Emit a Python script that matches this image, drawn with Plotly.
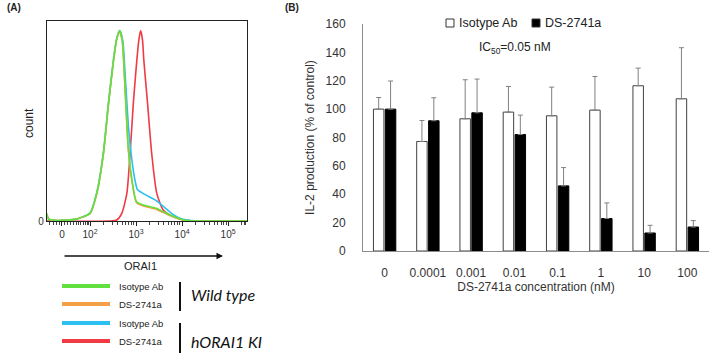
import plotly.graph_objects as go
import numpy as np

W, H = 709, 353

# ---------------- Panel A data (flow histogram, display units: decades) ----------------
wt_iso_x = [1.065, 1.1, 1.3, 1.49, 1.7, 1.855, 2.0, 2.145, 2.29, 2.40, 2.51, 2.58, 2.64, 2.70, 2.76, 2.83, 2.91, 3.01, 3.16, 3.45, 3.74, 4.03, 4.3, 5.41]
wt_iso_y = [4.0, 1.0, 0.3, 0.5, 1.0, 2.3, 4.0, 14.5, 35.4, 61.6, 84.3, 95.7, 100, 94.8, 70.3, 38.9, 21.5, 10.1, 8.4, 6.6, 3.1, 0.5, 0, 0]

wt_ds_x = [1.065, 1.1, 1.3, 1.49, 1.7, 1.855, 2.0, 2.145, 2.29, 2.40, 2.51, 2.58, 2.645, 2.70, 2.76, 2.83, 2.91, 3.01, 3.16, 3.45, 3.74, 4.03, 4.3, 5.41]
wt_ds_y = [3.5, 1.0, 0.3, 0.5, 1.0, 2.2, 3.8, 14.0, 35.0, 61.0, 84.0, 95.5, 99.5, 94.5, 69.5, 38.0, 21.0, 9.6, 7.9, 6.1, 2.7, 0.4, 0, 0]

ki_iso_x = [1.065, 1.1, 1.3, 1.49, 1.7, 1.855, 2.0, 2.145, 2.29, 2.40, 2.51, 2.58, 2.645, 2.71, 2.77, 2.84, 2.92, 2.98, 3.03, 3.15, 3.3, 3.45, 3.6, 3.8, 4.0, 4.2, 5.41]
ki_iso_y = [3.0, 1.0, 0.3, 0.5, 1.0, 2.3, 4.2, 14.8, 36.0, 62.0, 85.0, 96.0, 100, 95.0, 74.0, 48.0, 30.0, 21.0, 16.5, 14.5, 12.5, 10.5, 7.5, 3.5, 1.0, 0.2, 0]

ki_ds_x = [1.065, 2.4, 2.58, 2.69, 2.80, 2.87, 2.94, 3.01, 3.06, 3.10, 3.14, 3.17, 3.25, 3.34, 3.45, 3.59, 3.81, 4.03, 4.3, 5.41]
ki_ds_y = [0, 0, 0.5, 4.0, 14.5, 35.4, 61.6, 82.6, 95.0, 100, 95.0, 84.0, 61.6, 35.4, 14.5, 5.8, 2.3, 0.5, 0, 0]

a_tick_vals = [1.39, 2, 3, 4, 5]
a_tick_text = ["0", "10<sup>2</sup>", "10<sup>3</sup>", "10<sup>4</sup>", "10<sup>5</sup>"]

# ---------------- Panel B data ----------------
conc = ["0", "0.0001", "0.001", "0.01", "0.1", "1", "10", "100"]
iso_mean = [100, 77.2, 93.2, 97.9, 95.3, 99.3, 116.5, 107.3]
iso_top = [108.2, 92.0, 120.7, 116.0, 115.5, 123.0, 128.9, 143.3]
ds_mean = [100, 91.8, 97.4, 82.1, 45.9, 22.9, 12.7, 16.9]
ds_top = [119.8, 108.0, 121.2, 95.8, 58.8, 33.9, 18.1, 21.4]

C_GREEN = "#62e040"
C_ORANGE = "#f4a048"
C_CYAN = "#2cc0f0"
C_RED = "#f03a44"

FONT = "Liberation Sans, Arial, sans-serif"

def px(x):
    return x / W

def py(y):
    return 1 - y / H

fig = go.Figure()

# histogram traces
for xs, ys, col in [(ki_ds_x, ki_ds_y, C_RED), (ki_iso_x, ki_iso_y, C_CYAN),
                    (wt_ds_x, wt_ds_y, C_ORANGE), (wt_iso_x, wt_iso_y, C_GREEN)]:
    fig.add_trace(go.Scatter(x=xs, y=ys, mode="lines", xaxis="x", yaxis="y",
                             line=dict(color=col, width=1.6, shape="spline", smoothing=0.6),
                             showlegend=False, hoverinfo="skip"))

# bar traces
iso_err = [t - m for t, m in zip(iso_top, iso_mean)]
ds_err = [t - m for t, m in zip(ds_top, ds_mean)]
fig.add_trace(go.Bar(x=conc, y=iso_mean, name="Isotype Ab", xaxis="x2", yaxis="y2",
                     marker=dict(color="white", line=dict(color="#404040", width=1)),
                     showlegend=False,
                     error_y=dict(type="data", symmetric=False, array=iso_err,
                                  arrayminus=[0] * len(conc), color="#808080",
                                  thickness=1, width=2.5)))
fig.add_trace(go.Bar(x=conc, y=ds_mean, name="DS-2741a", xaxis="x2", yaxis="y2",
                     marker=dict(color="black", line=dict(color="black", width=1)),
                     showlegend=False,
                     error_y=dict(type="data", symmetric=False, array=ds_err,
                                  arrayminus=[0] * len(conc), color="#808080",
                                  thickness=1, width=2.5)))

# minor ticks for panel A (axis decoration)
minor_vals = []
for d in [2, 3, 4]:
    for k in range(2, 10):
        minor_vals.append(d + np.log10(k))
minor_vals += [1.12, 1.2, 1.27, 1.33, 1.45, 1.52, 1.58, 1.64, 1.7, 1.76, 1.8, 1.85, 1.9, 1.94, 1.97,
               5.3, 5.35, 5.38]

fig.update_layout(
    width=W, height=H,
    margin=dict(l=0, r=0, t=0, b=0, autoexpand=False),
    paper_bgcolor="white", plot_bgcolor="white",
    showlegend=False,
    font=dict(family=FONT, size=12, color="#222"),
    barmode="group", bargap=0.45, bargroupgap=0.12,
    xaxis=dict(domain=[px(47), px(247)], range=[1.065, 5.41], anchor="y",
               showline=True, mirror=True, linecolor="#222", linewidth=1.2,
               showgrid=False, zeroline=False,
               tickmode="array", tickvals=a_tick_vals, ticktext=a_tick_text,
               ticks="outside", ticklen=4, tickcolor="#222", tickwidth=1,
               tickfont=dict(size=10, family=FONT, color="#333"),
               minor=dict(tickmode="array", tickvals=minor_vals, ticks="outside",
                          ticklen=3, tickcolor="#444", tickwidth=1)),
    yaxis=dict(domain=[py(221), py(21)], range=[0, 105], anchor="x",
               showline=True, mirror=True, linecolor="#222", linewidth=1.2,
               showgrid=False, zeroline=False,
               tickmode="array", tickvals=[0], ticktext=["0"], ticks="",
               tickfont=dict(size=10, family=FONT, color="#333")),
    xaxis2=dict(domain=[px(363), 1.0], anchor="y2", type="category",
                showline=True, linecolor="#8c8c8c", linewidth=1,
                showgrid=False, zeroline=False,
                ticks="outside", ticklen=11, tickcolor="rgba(0,0,0,0)",
                tickfont=dict(size=12, family=FONT, color="#333"),
                title=dict(text="DS-2741a concentration (nM)", standoff=3,
                           font=dict(size=12, family=FONT, color="#333"))),
    yaxis2=dict(domain=[py(251), py(24)], range=[0, 160], anchor="x2",
                showline=True, linecolor="#8c8c8c", linewidth=1,
                showgrid=False, zeroline=False,
                tickmode="array", tickvals=[0, 20, 40, 60, 80, 100, 120, 140, 160],
                ticks="outside", ticklen=14, tickcolor="rgba(0,0,0,0)",
                tickfont=dict(size=12, family=FONT, color="#333"),
                title=dict(text="IL-2 production (% of control)", standoff=8,
                           font=dict(size=12, family=FONT, color="#333"))),
)

ann = []
shapes = []
ann.append(dict(text="<b>(A)</b>", x=px(5), y=py(8), xanchor="left", yanchor="middle",
                font=dict(size=10, family=FONT, color="#222")))
ann.append(dict(text="<b>(B)</b>", x=px(283), y=py(8), xanchor="left", yanchor="middle",
                font=dict(size=10, family=FONT, color="#222")))
ann.append(dict(text="count", x=px(29), y=py(123), textangle=-90, xanchor="center", yanchor="middle",
                font=dict(size=12, family=FONT, color="#222")))
ann.append(dict(text="ORAI1", x=px(140), y=py(266), xanchor="center", yanchor="middle",
                font=dict(size=11, family=FONT, color="#222")))
ann.append(dict(text="IC<sub>50</sub>=0.05 nM", x=px(515), y=py(48), xanchor="center", yanchor="middle",
                font=dict(size=12, family=FONT, color="#222")))
# arrow
ann.append(dict(text="", x=px(223), y=py(256), ax=-160, ay=0, showarrow=True,
                arrowhead=2, arrowsize=1, arrowwidth=1.3, arrowcolor="#111"))

# Panel B legend (series names)
series_names = ["Isotype Ab", "DS-2741a"]
series_fill = ["white", "black"]
for name, fill, sx in zip(series_names, series_fill, [446, 532]):
    shapes.append(dict(type="rect", xref="paper", yref="paper", x0=px(sx), x1=px(sx + 8),
                       y0=py(27), y1=py(19), fillcolor=fill, line=dict(color="#333", width=1)))
    ann.append(dict(text=name, x=px(sx + 11), y=py(23), xanchor="left", yanchor="middle",
                    font=dict(size=12.5, family=FONT, color="#222")))

# Panel A legend
leg_items = [("Isotype Ab", C_GREEN, 286), ("DS-2741a", C_ORANGE, 304),
             ("Isotype Ab", C_CYAN, 323), ("DS-2741a", C_RED, 341)]
for label, col, yy in leg_items:
    shapes.append(dict(type="line", xref="paper", yref="paper", x0=px(62), x1=px(110),
                       y0=py(yy), y1=py(yy), line=dict(color=col, width=4)))
    ann.append(dict(text=label, x=px(117), y=py(yy), xanchor="left", yanchor="middle",
                    font=dict(size=9.5, family=FONT, color="#222")))
shapes.append(dict(type="line", xref="paper", yref="paper", x0=px(180), x1=px(180),
                   y0=py(282), y1=py(311), line=dict(color="#111", width=2)))
shapes.append(dict(type="line", xref="paper", yref="paper", x0=px(180), x1=px(180),
                   y0=py(323), y1=py(353), line=dict(color="#111", width=2)))
ann.append(dict(text="<i>Wild type</i>", x=px(189), y=py(294), xanchor="left", yanchor="middle",
                font=dict(size=16, family="Lato, Liberation Sans, sans-serif", color="#111")))
ann.append(dict(text="<i>hORAI1 KI</i>", x=px(189), y=py(341), xanchor="left", yanchor="middle",
                font=dict(size=16, family="Lato, Liberation Sans, sans-serif", color="#111")))

for a in ann:
    a.setdefault("xref", "paper")
    a.setdefault("yref", "paper")
    a.setdefault("showarrow", False)
fig.update_layout(annotations=ann, shapes=shapes)

fig.write_html("out.html", config={"displayModeBar": False},
               post_script="document.body.style.margin='0';document.body.style.overflow='hidden';")
